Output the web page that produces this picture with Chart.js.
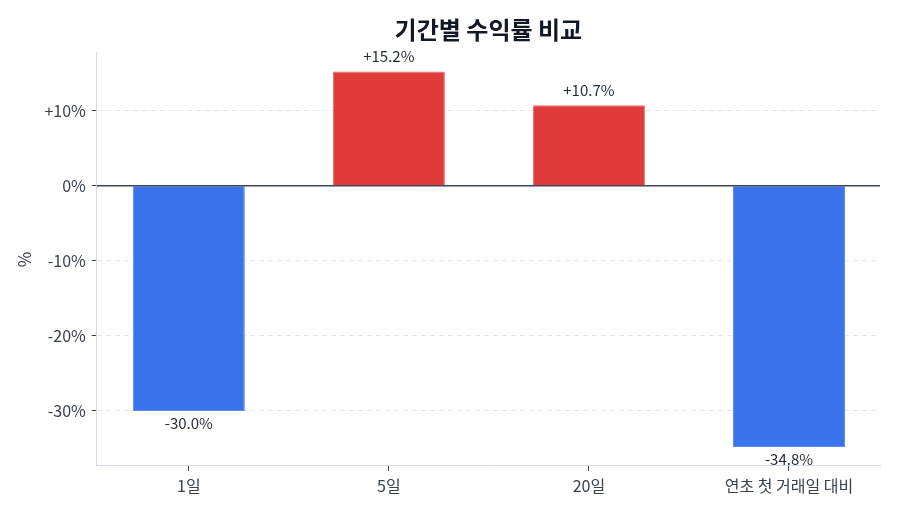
<!DOCTYPE html>
<html>
<head>
<meta charset="utf-8">
<script src="https://cdn.jsdelivr.net/npm/chart.js@4"></script>
<style>
  html, body { margin: 0; padding: 0; background: #fff; }
  #wrap { width: 900px; height: 514px; }
</style>
</head>
<body>
<div id="wrap"><canvas id="returnChart"></canvas></div>
<script>
var periodLabels = ["1일", "5일", "20일", "연초 첫 거래일 대비"];
var returnValues = [-30.0, 15.2, 10.7, -34.8];
var yTicks = [-30, -20, -10, 0, 10];

var fontFamily = "'Noto Sans CJK KR', 'Noto Sans', sans-serif";

function fmtPct(v) {
     return (v > 0 ? "+" : "") + v.toFixed(1) + "%";
}

// value labels above / below each bar
var barLabels = {
     id: 'barLabels',
     afterDatasetsDraw: function(chart) {
          var ctx = chart.ctx;
          var meta = chart.getDatasetMeta(0);
          ctx.save();
          ctx.font = "15px " + fontFamily;
          ctx.fillStyle = '#1f2937';
          ctx.textAlign = 'center';
          meta.data.forEach(function(bar, i) {
               var v = returnValues[i];
               if (v >= 0) {
                    ctx.textBaseline = 'bottom';
                    ctx.fillText(fmtPct(v), bar.x, bar.y - 8);
               } else {
                    ctx.textBaseline = 'top';
                    ctx.fillText(fmtPct(v), bar.x, bar.y + 5);
               }
          });
          ctx.restore();
     }
};

// solid line at 0%
var zeroLine = {
     id: 'zeroLine',
     afterDatasetsDraw: function(chart) {
          var y = chart.scales.y.getPixelForValue(0);
          var area = chart.chartArea;
          var ctx = chart.ctx;
          ctx.save();
          ctx.strokeStyle = '#3f4756';
          ctx.lineWidth = 1.5;
          ctx.beginPath();
          ctx.moveTo(area.left, y);
          ctx.lineTo(area.right, y);
          ctx.stroke();
          ctx.restore();
     }
};

var points = returnValues.map(function(v, i) { return { x: i, y: v }; });

new Chart(document.getElementById('returnChart'), {
     type: 'bar',
     data: {
          datasets: [{
               data: points,
               backgroundColor: returnValues.map(function(v) { return v >= 0 ? '#df3b3b' : '#3b73ec'; }),
               borderColor: returnValues.map(function(v) { return v >= 0 ? '#f06b6b' : '#5a8cf0'; }),
               borderWidth: 1,
               categoryPercentage: 1.0,
               barPercentage: 0.56
          }]
     },
     plugins: [zeroLine, barLabels],
     options: {
          responsive: true,
          maintainAspectRatio: false,
          animation: false,
          layout: { padding: { left: 10, right: 20, bottom: 12, top: 0 } },
          plugins: {
               legend: { display: false },
               tooltip: { enabled: false },
               title: {
                    display: true,
                    text: '기간별 수익률 비교',
                    fullSize: false,
                    color: '#111827',
                    font: { family: fontFamily, size: 24, weight: 'bold' },
                    padding: { top: 15, bottom: 9 }
               }
          },
          scales: {
               y: {
                    min: -37.3,
                    max: 17.7,
                    afterBuildTicks: function(scale) {
                         scale.ticks = yTicks.map(function(v) { return { value: v }; });
                    },
                    title: {
                         display: true,
                         text: '%',
                         color: '#374151',
                         font: { family: fontFamily, size: 17 },
                         padding: { bottom: 4 }
                    },
                    ticks: {
                         color: '#374151',
                         font: { family: fontFamily, size: 16 },
                         padding: 6,
                         callback: function(v) { return (v > 0 ? '+' : '') + v + '%'; }
                    },
                    grid: {
                         color: function(c) { return c.tick && c.tick.value === 0 ? 'rgba(0,0,0,0)' : '#e3e6ec'; },
                         lineWidth: 1,
                         tickColor: '#374151',
                         tickLength: 5,
                         tickBorderDash: [],
                         tickWidth: 1
                    },
                    border: { color: '#d5d9e2', width: 1, dash: [5, 4] }
               },
               x: {
                    type: 'linear',
                    offset: false,
                    min: -0.46,
                    max: 3.455,
                    afterBuildTicks: function(scale) {
                         scale.ticks = periodLabels.map(function(l, i) { return { value: i }; });
                    },
                    ticks: {
                         color: '#374151',
                         font: { family: fontFamily, size: 16 },
                         padding: 6,
                         callback: function(v) { return periodLabels[v]; }
                    },
                    grid: {
                         offset: false,
                         drawOnChartArea: false,
                         tickColor: '#374151',
                         tickLength: 5
                    },
                    border: { color: '#d5d9e2', width: 1 }
               }
          }
     }
});
</script>
</body>
</html>
